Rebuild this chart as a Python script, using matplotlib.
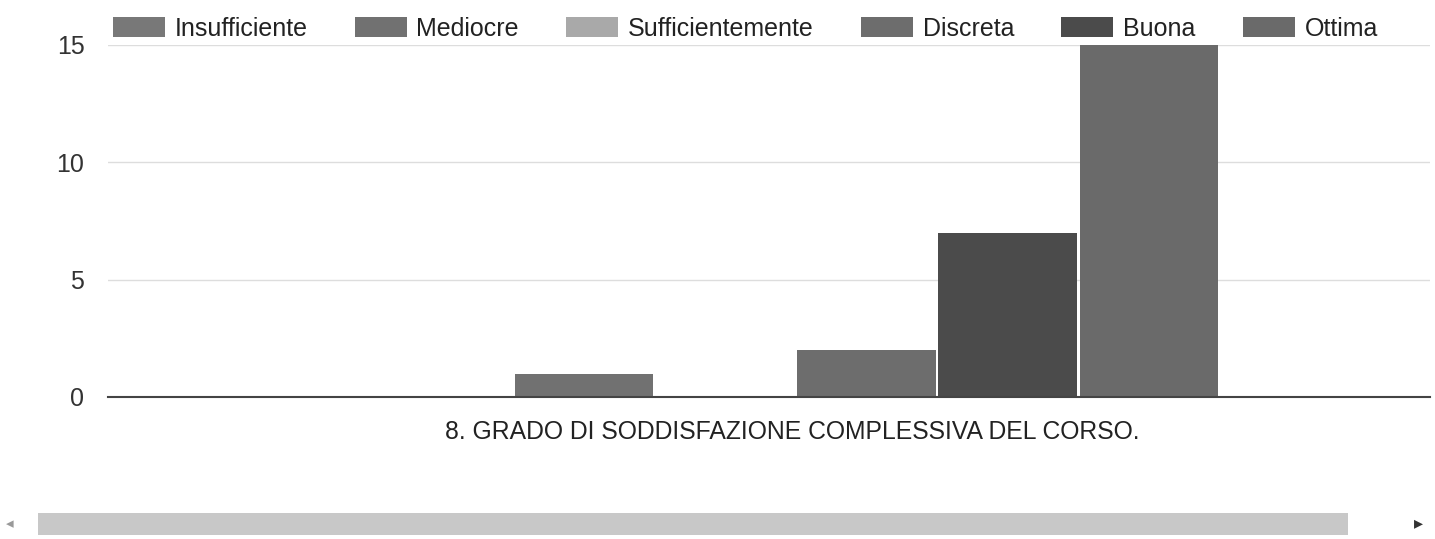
import numpy as np
import matplotlib.pyplot as plt
from matplotlib.patches import Patch, Rectangle

plt.rcParams['font.family'] = ['Liberation Sans', 'DejaVu Sans']

categorie = ['Insufficiente', 'Mediocre', 'Sufficientemente', 'Discreta', 'Buona', 'Ottima']
valori = [0, 1, 0, 2, 7, 15]
colori = ['#787878', '#717171', '#a9a9a9', '#6d6d6d', '#4b4b4b', '#6a6a6a']
titolo_asse = '8. GRADO DI SODDISFAZIONE COMPLESSIVA DEL CORSO.'
yticks = [0, 5, 10, 15]

fig = plt.figure(figsize=(14.35, 5.39), dpi=100)
ax = fig.add_axes([108 / 1435, 1 - 397 / 539, (1430 - 108) / 1435, (397 - 45) / 539])

x = np.arange(len(categorie))
for i in range(len(categorie)):
    ax.bar(x[i], valori[i], width=0.98, color=colori[i], label=categorie[i], zorder=2)

ax.set_xlim(-2.37, 6.99)
ax.set_ylim(0, 15)
ax.set_yticks(yticks)
ax.set_xticks([])
ax.tick_params(axis='y', length=0, labelsize=18, pad=17, colors='#333333')
ax.grid(axis='y', color='#dddddd', linewidth=1, zorder=0)
for s in ['top', 'right', 'left']:
    ax.spines[s].set_visible(False)
ax.spines['bottom'].set_color('#444444')
ax.spines['bottom'].set_linewidth(1.5)
ax.spines['bottom'].set_zorder(3)
ax.set_xlabel(titolo_asse, fontsize=17.8, color='#222222')
ax.xaxis.set_label_coords((792 - 108) / (1430 - 108), -0.065)

# legenda in alto
maniglie = [Patch(facecolor=c, edgecolor='none') for c in colori]
fig.legend(maniglie, categorie, loc='upper left', bbox_to_anchor=(90 / 1435, 1.01),
           ncol=6, frameon=False, fontsize=18, handlelength=2.08, handleheight=0.85,
           handletextpad=0.4, columnspacing=1.88, labelcolor='#222222')

# barra di scorrimento
fig.patches.append(Rectangle((38 / 1435, 4 / 539), (1348 - 38) / 1435, 22 / 539,
                             transform=fig.transFigure, facecolor='#c8c8c8', edgecolor='none'))
fig.text(10 / 1435, 15 / 539, '◂', fontsize=11, color='#999999', ha='center', va='center')
fig.text(1418 / 1435, 15 / 539, '▸', fontsize=13, color='#333333', ha='center', va='center')

fig.savefig('out.png', dpi=100)
